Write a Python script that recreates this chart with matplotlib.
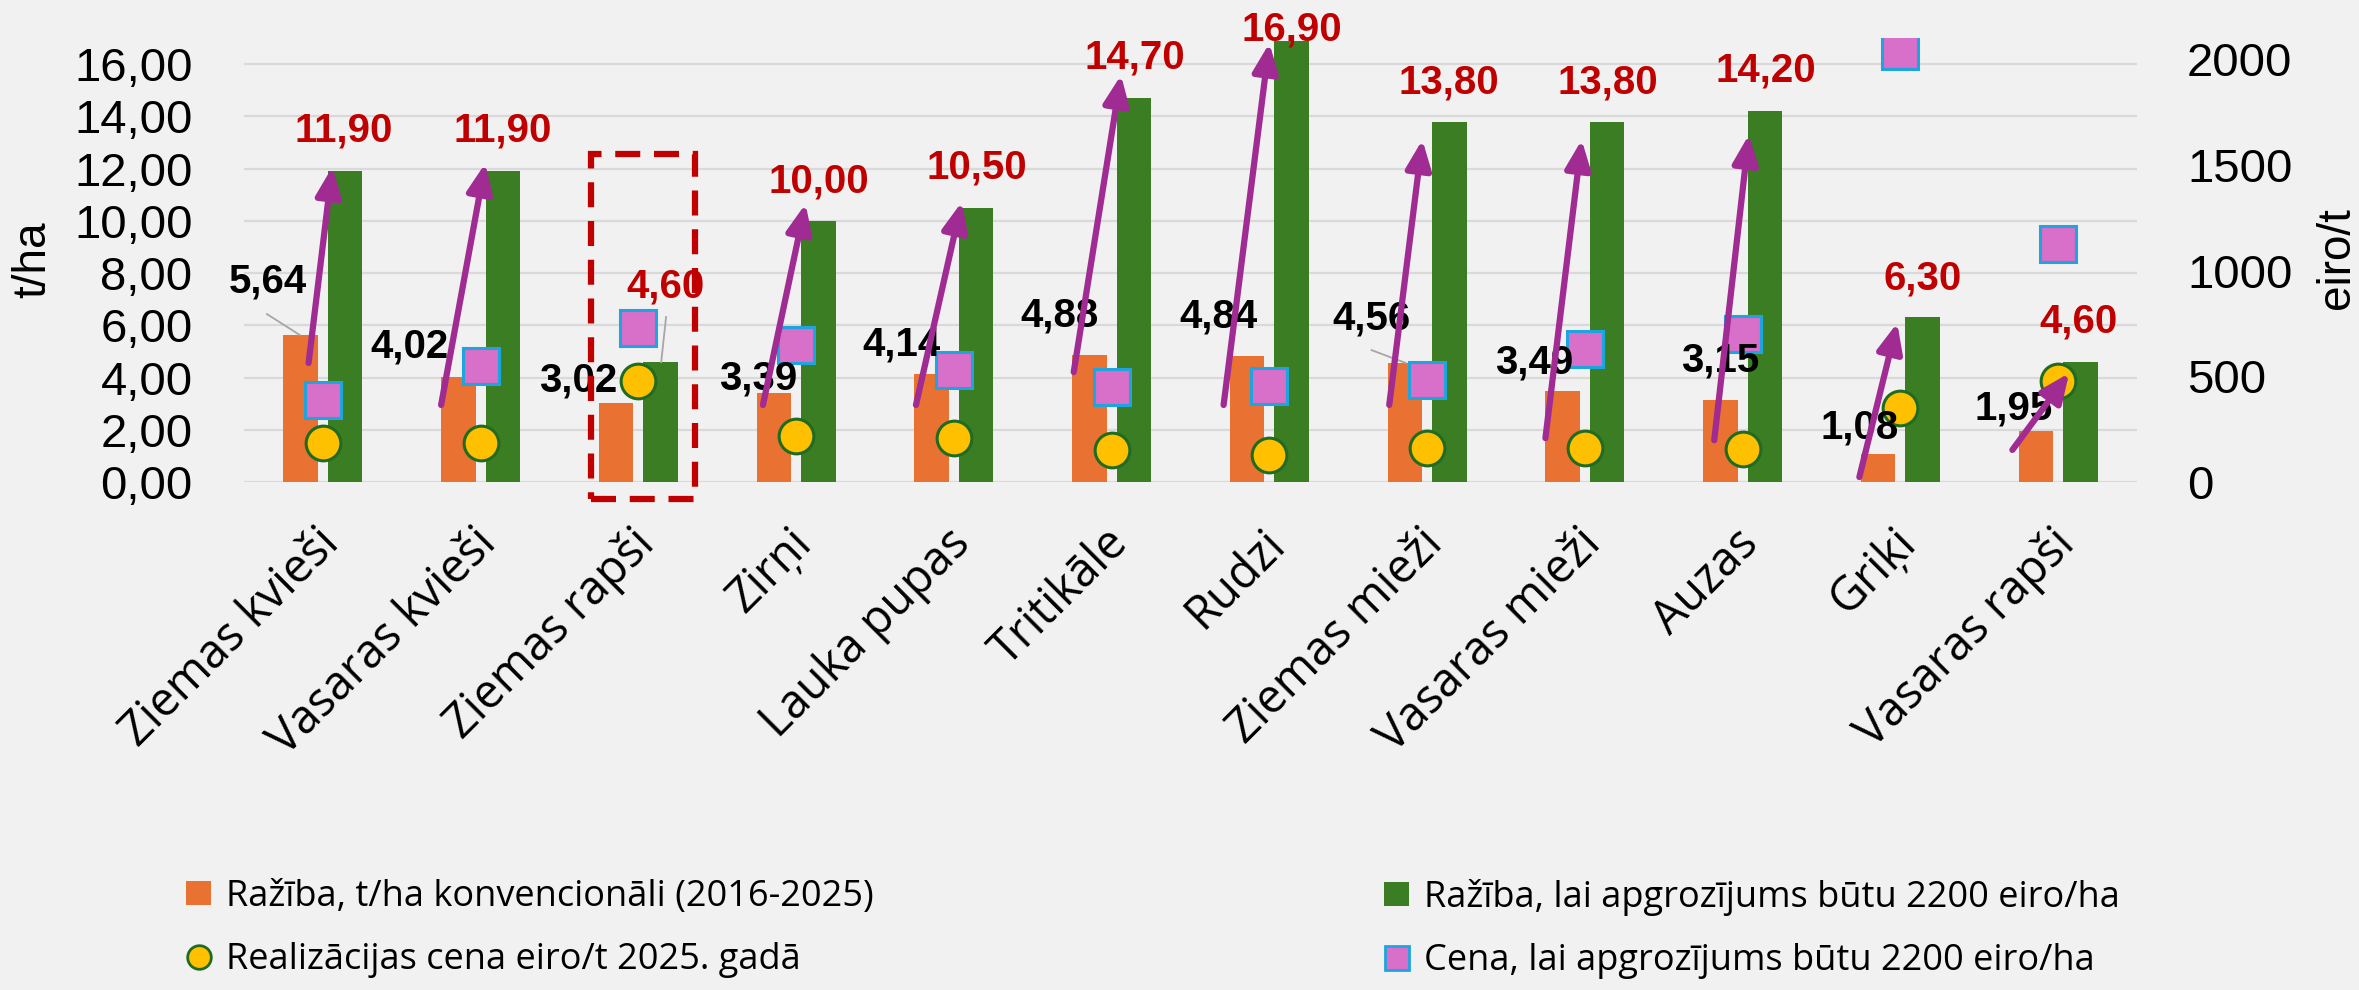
import matplotlib
matplotlib.use("Agg")
import matplotlib.pyplot as plt
import matplotlib.transforms as mtransforms
from matplotlib.lines import Line2D
from matplotlib.patches import Rectangle
from matplotlib.ticker import FuncFormatter
import numpy as np

plt.rcParams['font.family'] = ['Liberation Sans', 'DejaVu Sans']

# data
crops = ["Ziemas kvieši", "Vasaras kvieši", "Ziemas rapši", "Zirņi", "Lauka pupas",
         "Tritikāle", "Rudzi", "Ziemas mieži", "Vasaras mieži", "Auzas", "Griķi",
         "Vasaras rapši"]
yield_conv = [5.64, 4.02, 3.02, 3.39, 4.14, 4.88, 4.84, 4.56, 3.49, 3.15, 1.08, 1.95]
yield_need = [11.90, 11.90, 4.60, 10.00, 10.50, 14.70, 16.90, 13.80, 13.80, 14.20, 6.30, 4.60]
price_2025 = [185, 185, 478, 220, 210, 150, 130, 159, 159, 155, 349, 478]
price_need = [390, 547, 728, 649, 531, 451, 455, 482, 630, 698, 2037, 1128]

legend_names = ["Ražība, t/ha konvencionāli (2016-2025)",
                "Realizācijas cena eiro/t 2025. gadā",
                "Ražība, lai apgrozījums būtu 2200 eiro/ha",
                "Cena, lai apgrozījums būtu 2200 eiro/ha"]

# where the value labels sit (shift from category centre, height in t/ha)
conv_lbl_dx = [-0.35, -0.45, -0.38, -0.24, -0.33, -0.33, -0.32, -0.35, -0.32, -0.14, -0.26, -0.28]
conv_lbl_y = [7.66, 5.2, 3.9, 3.98, 5.28, 6.39, 6.32, 6.28, 4.59, 4.67, 2.1, 2.8]
need_lbl_dx = [0.135, 0.14, 0.17, 0.145, 0.145, 0.15, 0.14, 0.135, 0.145, 0.15, 0.14, 0.13]
need_lbl_y = [13.44, 13.44, 7.5, 11.49, 12.06, 16.27, 17.34, 15.3, 15.3, 15.74, 7.81, 6.13]

# grey leader lines: (x0, y0, x1, y1) in category / t/ha units
leaders = [(-0.354, 6.43, -0.146, 5.63),
           (7 - 0.352, 5.05, 7 - 0.136, 4.56),
           (2 + 0.176, 6.32, 2 + 0.145, 4.59)]

# purple arrows: (category, dx start, y start, dx end, y end)
arrows = [(0, -0.09, 4.56, 0.06, 12.06),
          (1, -0.25, 2.95, 0.03, 12.2),
          (3, -0.21, 2.95, 0.06, 10.65),
          (4, -0.24, 2.95, 0.05, 10.72),
          (5, -0.24, 4.21, 0.06, 15.58),
          (6, -0.29, 2.95, 0.0, 16.8),
          (7, -0.24, 2.95, -0.03, 13.1),
          (8, -0.25, 1.68, -0.02, 13.1),
          (9, -0.18, 1.6, 0.04, 13.3),
          (10, -0.26, 0.19, -0.02, 6.09),
          (11, -0.29, 1.23, 0.07, 4.17)]


def comma(v):
    return f"{v:.2f}".replace('.', ',')


fig = plt.figure(figsize=(23.59, 9.9), dpi=100, facecolor='#f0f1f0')
ax = fig.add_axes([0.1034, 0.5131, 0.8025, 0.4485])
ax.set_facecolor('none')

x = np.arange(len(crops))
b1 = ax.bar(x - 0.141, yield_conv, 0.218, color='#E97132', zorder=2)
b2 = ax.bar(x + 0.141, yield_need, 0.218, color='#3B7D23', zorder=2)

ax.set_xlim(-0.5, len(crops) - 0.5)
ax.set_ylim(0, 17)
ax.set_yticks(np.arange(0, 17, 2))
ax.yaxis.set_major_formatter(FuncFormatter(lambda v, p: comma(v)))
ax.grid(axis='y', color='#d9d9d9', lw=1.6)
ax.set_axisbelow(True)
for s in ax.spines.values():
    s.set_visible(False)
ax.tick_params(axis='y', length=0, pad=37, labelsize=34)
ax.tick_params(axis='x', length=0, pad=27)
ax.set_xticks(x)
ax.set_xticklabels(crops, rotation=45, ha='right', rotation_mode='anchor',
                   fontsize=33.5, family='Open Sans')
shift = mtransforms.ScaledTranslation(-0.08, 0, fig.dpi_scale_trans)
for lbl in ax.get_xticklabels():
    lbl.set_transform(lbl.get_transform() + shift)

ax2 = ax.twinx()
ax2.set_ylim(0, 2100)
ax2.set_yticks([0, 500, 1000, 1500, 2000])
for s in ax2.spines.values():
    s.set_visible(False)
ax2.tick_params(axis='y', length=0, pad=36, labelsize=34)

ax2.plot(x, price_2025, ls='none', marker='o', ms=25, mfc='#FFC000', mec='#1F6B21',
         mew=2.2, zorder=3)
ax2.plot(x, price_need, ls='none', marker='s', ms=25.5, mfc='#D86FC9', mec='#1EA5DF',
         mew=2.2, zorder=3)

for x0, y0, x1, y1 in leaders:
    ax2.plot([x0, x1], [y0, y1], color='#a6a6a6', lw=1.3, transform=ax.transData, zorder=3)

for i in range(len(crops)):
    ax2.text(i + conv_lbl_dx[i], conv_lbl_y[i], comma(yield_conv[i]), transform=ax.transData,
             ha='center', va='center', fontsize=29, fontweight='bold', color='black', zorder=4)
    ax2.text(i + need_lbl_dx[i], need_lbl_y[i], comma(yield_need[i]), transform=ax.transData,
             ha='center', va='center', fontsize=29, fontweight='bold', color='#C00000', zorder=4)

for i, dx0, y0, dx1, y1 in arrows:
    ax2.annotate('', xy=(i + dx1, y1), xytext=(i + dx0, y0),
                 xycoords=ax.transData, textcoords=ax.transData,
                 arrowprops=dict(arrowstyle='-|>,head_length=0.8,head_width=0.35',
                                 color='#A02B93', lw=4.5, shrinkA=0, shrinkB=0,
                                 mutation_scale=22),
                 annotation_clip=False, zorder=5)

box = Rectangle((2 - 0.30, -0.65), 0.66, 13.2, transform=ax.transData, fill=False,
                edgecolor='#C00000', lw=4.5, ls=(0, (4, 2.2)), clip_on=False, zorder=5)
ax2.add_patch(box)

fig.text(33 / 2359, 1 - 260 / 990, 't/ha', rotation=90, ha='center', va='center', fontsize=33)
fig.text(2337 / 2359, 1 - 258 / 990, 'eiro/t', rotation=90, ha='center', va='center', fontsize=33)

h_p25 = Line2D([], [], ls='none', marker='o', ms=17, mfc='#FFC000', mec='#1F6B21', mew=2)
h_pneed = Line2D([], [], ls='none', marker='s', ms=17, mfc='#D86FC9', mec='#1EA5DF', mew=2)
leg_kw = dict(loc='upper left', frameon=False, prop={'family': 'Open Sans', 'size': 26},
              handlelength=0.7, handleheight=0.65, handletextpad=0.4, labelspacing=0.75,
              borderpad=0, borderaxespad=0)
fig.legend([b1, h_p25], [legend_names[0], legend_names[1]], bbox_to_anchor=(0.0788, 0.112), **leg_kw)
fig.legend([b2, h_pneed], [legend_names[2], legend_names[3]], bbox_to_anchor=(0.5867, 0.112), **leg_kw)

fig.savefig('out.png', dpi=100, facecolor=fig.get_facecolor())
